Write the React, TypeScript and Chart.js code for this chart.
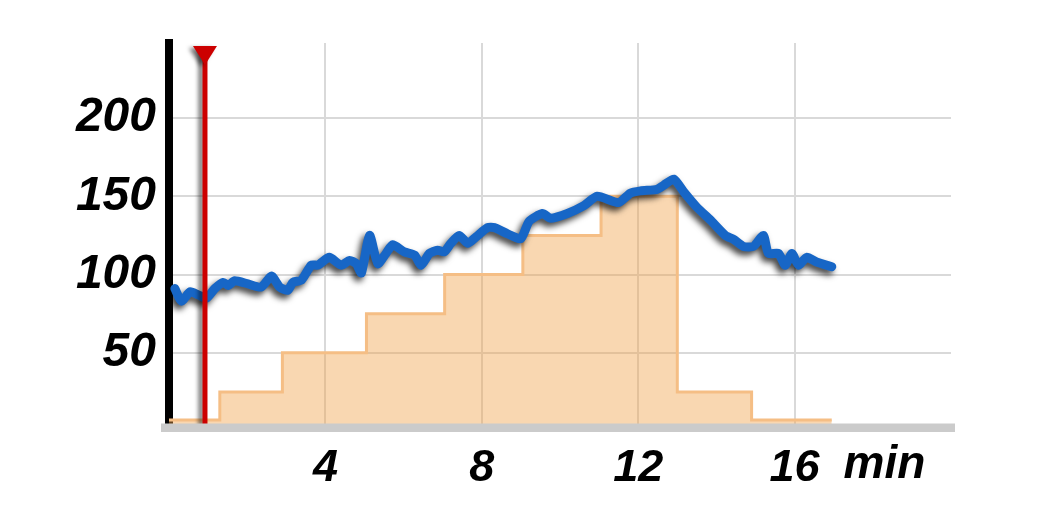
import React, { useEffect, useRef } from "react";
import { Chart, registerables } from "chart.js";

Chart.register(...registerables);

// Blue measured series (minutes, value)
const blueX = [0.15, 0.32, 0.54, 0.75, 0.96, 1.17, 1.39, 1.51, 1.68, 2.02, 2.36, 2.62, 2.83, 3.04, 3.17, 3.39, 3.64, 3.81, 4.1, 4.4, 4.62, 4.79, 4.92, 5.13, 5.34, 5.55, 5.72, 6.02, 6.28, 6.45, 6.66, 6.87, 7.04, 7.21, 7.42, 7.64, 7.85, 8.15, 8.32, 8.66, 9.0, 9.21, 9.55, 9.76, 10.19, 10.61, 10.95, 11.5, 11.8, 12.06, 12.48, 12.65, 12.91, 13.16, 13.5, 13.84, 14.23, 14.44, 14.69, 14.95, 15.2, 15.33, 15.59, 15.76, 15.93, 16.1, 16.31, 16.56, 16.95];
const blueY = [91, 83, 89, 87, 85, 91, 95, 93, 96, 94, 92, 99, 92, 90, 95, 96.5, 106, 106, 111, 106, 109, 107, 101, 125, 107, 113.5, 119, 114.5, 112.5, 106, 113.5, 115.5, 114.5, 120, 125, 120, 124, 130, 130, 126, 123, 134, 139, 136, 139, 144, 150, 146, 152, 153.5, 154.5, 157, 161, 153, 143, 135, 125, 122.5, 118, 118, 125, 113.5, 113.5, 106, 113.5, 106, 111, 108, 105];

// Stepped load profile (minutes, value) - each value holds until the next x
const stepX = [0, 1.3, 2.9, 5.05, 7.05, 9.05, 11.05, 13, 14.9, 16.95];
const stepY = [7, 25, 50, 75, 100, 125, 150, 25, 7, 7];

// Axis ticks
const xTicks = [4, 8, 12, 16];
const yTicks = [50, 100, 150, 200];
const xUnit = "min";
const markerX = 0.92;

const X_FONT = "'Liberation Sans Narrow', 'Liberation Sans', Arial, sans-serif";
const Y_FONT = "'Liberation Sans', Arial, sans-serif";

const decorPlugin = {
  id: "decor",
  beforeDatasetDraw(chart: any, args: any) {
    if (args.index === 0) {
      const ctx = chart.ctx;
      ctx.save();
      ctx.shadowColor = "rgba(0,0,0,0.75)";
      ctx.shadowBlur = 6;
      ctx.shadowOffsetX = -3;
      ctx.shadowOffsetY = 4;
    }
  },
  afterDatasetDraw(chart: any, args: any) {
    if (args.index === 0) {
      chart.ctx.restore();
    }
  },
  afterDatasetsDraw(chart: any) {
    const ctx = chart.ctx;
    const xs = chart.scales.x;
    const ys = chart.scales.y;
    const area = chart.chartArea;
    const mx = xs.getPixelForValue(markerX);
    const bottom = ys.getPixelForValue(0) - 6;
    ctx.save();
    ctx.shadowColor = "rgba(0,0,0,0.55)";
    ctx.shadowBlur = 4;
    ctx.shadowOffsetX = -4;
    ctx.shadowOffsetY = 2;
    ctx.fillStyle = "#cc0000";
    ctx.fillRect(mx - 2.5, area.top + 5, 5, bottom - area.top - 5);
    ctx.beginPath();
    ctx.moveTo(mx - 12, area.top + 3);
    ctx.lineTo(mx + 12, area.top + 3);
    ctx.lineTo(mx, area.top + 22);
    ctx.closePath();
    ctx.fill();
    ctx.restore();
  },
  afterDraw(chart: any) {
    const ctx = chart.ctx;
    const xs = chart.scales.x;
    const ys = chart.scales.y;
    const area = chart.chartArea;
    const y0 = ys.getPixelForValue(0);
    ctx.save();
    ctx.fillStyle = "#fff";
    ctx.fillRect(area.left - 10, y0, 20, 6);
    ctx.fillStyle = "#cbcbcb";
    ctx.fillRect(area.left - 8, y0 - 7.5, area.right - area.left + 12, 8.5);
    ctx.fillStyle = "#000";
    ctx.font = `italic bold 46px ${X_FONT}`;
    ctx.textAlign = "left";
    ctx.textBaseline = "top";
    ctx.fillText(xUnit, xs.getPixelForValue(xTicks[xTicks.length - 1]) + 49, xs.top + 11);
    ctx.restore();
  },
};

export default function App() {
  const ref = useRef<HTMLCanvasElement>(null);
  useEffect(() => {
    document.body.style.margin = "0";
    const canvas = ref.current!;
    const chart = new Chart(canvas, {
      type: "line",
      data: {
        datasets: [
          {
            data: blueX.map((x, i) => ({ x, y: blueY[i] })),
            borderColor: "#1766c6",
            borderWidth: 9,
            tension: 0.2,
            pointRadius: 0,
            fill: false,
            borderCapStyle: "round",
            borderJoinStyle: "round",
          },
          {
            data: stepX.map((x, i) => ({ x, y: stepY[i] })),
            stepped: true,
            borderColor: "#f5be85",
            borderWidth: 3,
            backgroundColor: "rgba(240,160,70,0.42)",
            fill: "origin",
            pointRadius: 0,
          },
        ],
      },
      options: {
        responsive: false,
        animation: false,
        layout: { padding: { top: 43, right: 97, left: 0, bottom: 0 } },
        plugins: { legend: { display: false }, tooltip: { enabled: false } },
        scales: {
          x: {
            type: "linear",
            min: 0,
            max: 20,
            afterFit: (s: any) => { s.height = 93; },
            afterBuildTicks: (s: any) => { s.ticks = [0, ...xTicks, 20].map((v) => ({ value: v })); },
            ticks: {
              callback: (v: any) => (xTicks.includes(v) ? String(v) : ""),
              font: { family: X_FONT, size: 45, weight: "bold", style: "italic" },
              color: "#000",
              padding: 11,
              maxRotation: 0,
              autoSkip: false,
            },
            grid: {
              color: (c: any) => (c.tick && xTicks.includes(c.tick.value) ? "#d9d9d9" : "rgba(0,0,0,0)"),
              lineWidth: 2,
              drawTicks: false,
            },
            border: { display: false },
          },
          y: {
            min: 0,
            max: 248,
            afterFit: (s: any) => { s.width = 169; },
            afterBuildTicks: (s: any) => { s.ticks = [0, ...yTicks].map((v) => ({ value: v })); },
            ticks: {
              callback: (v: any) => (yTicks.includes(v) ? String(v) : ""),
              font: { family: Y_FONT, size: 48, weight: "bold", style: "italic" },
              color: "#000",
              padding: 13,
            },
            grid: {
              color: (c: any) => (c.tick && yTicks.includes(c.tick.value) ? "#d9d9d9" : "rgba(0,0,0,0)"),
              lineWidth: 2,
              drawTicks: false,
            },
            border: { display: true, color: "#000", width: 8 },
          },
        },
      },
      plugins: [decorPlugin],
    } as any);
    return () => chart.destroy();
  }, []);
  return (
    <div style={{ width: 1048, height: 524, background: "#fff" }}>
      <canvas ref={ref} width={1048} height={524} />
    </div>
  );
}
